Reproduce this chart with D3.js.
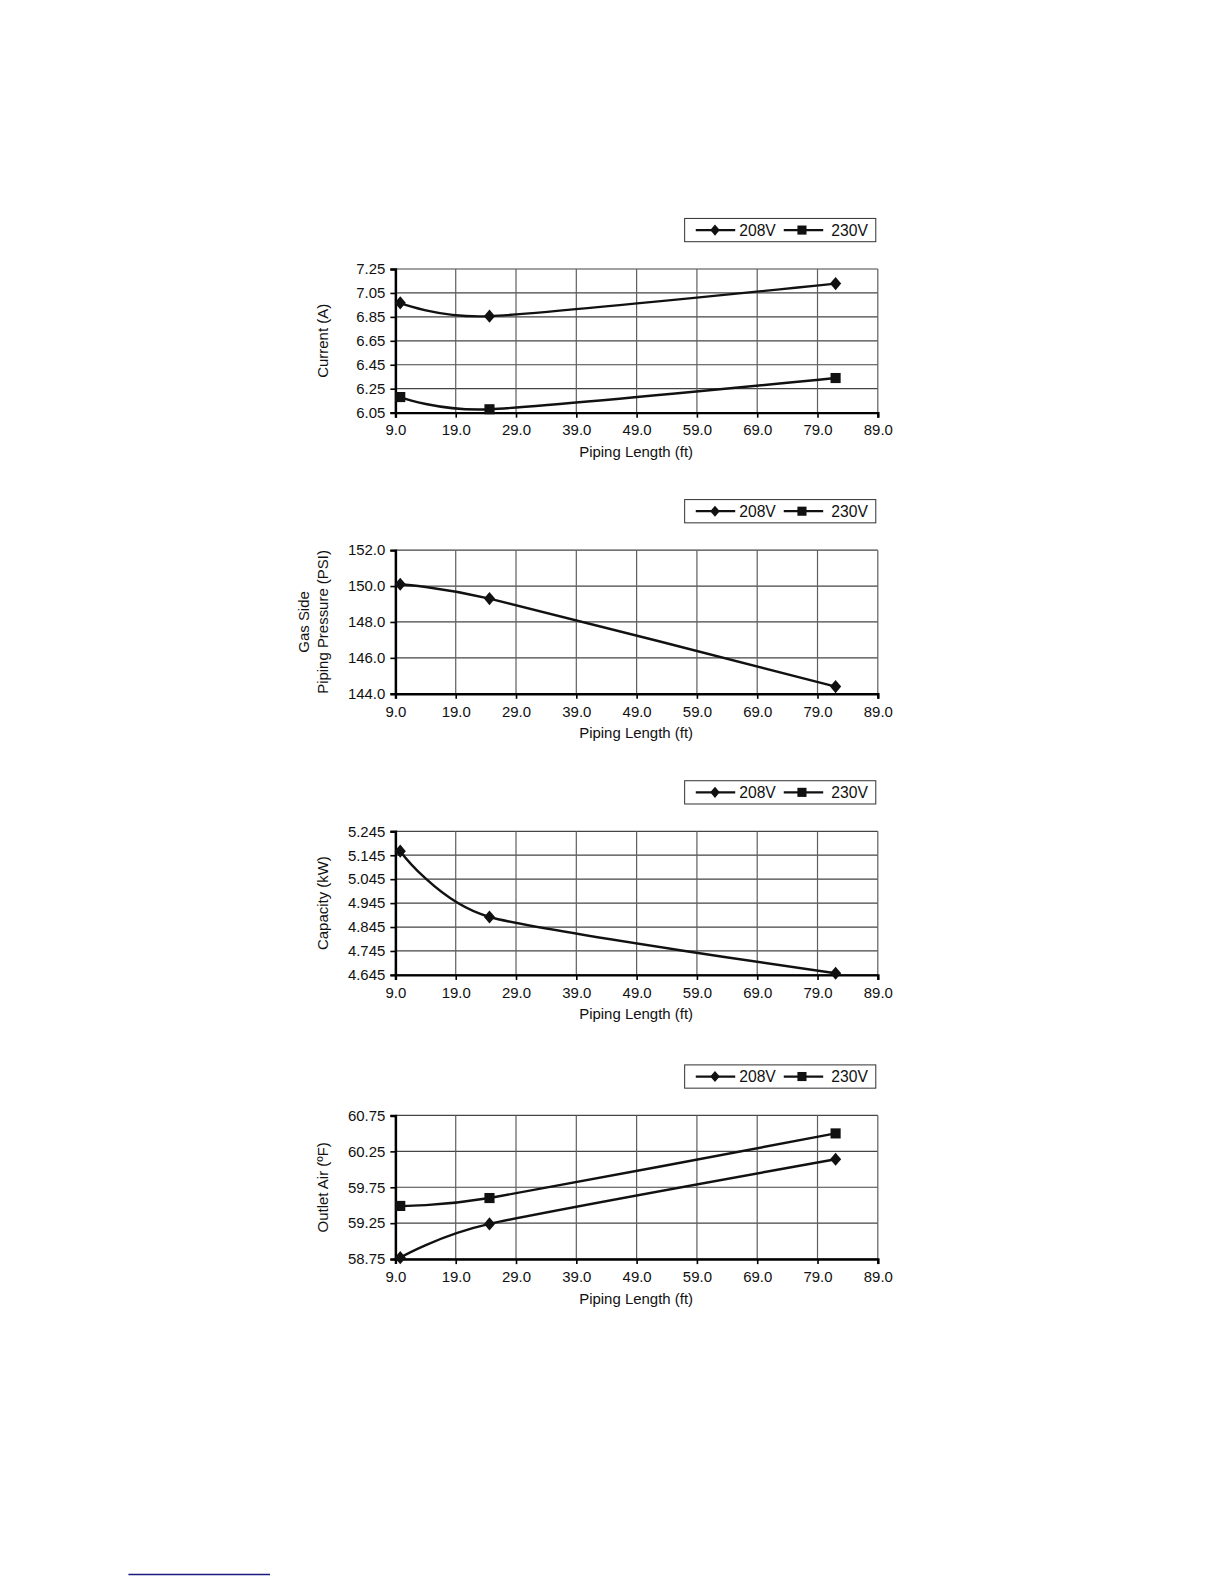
<!DOCTYPE html>
<html><head><meta charset="utf-8">
<script src="https://cdn.jsdelivr.net/npm/d3@7"></script>
<style>body{margin:0;background:#fff}svg{display:block}text{font-family:"Liberation Sans",Arial,sans-serif;fill:#111}</style>
</head><body>
<script>
// ---- data ----
const pipingLength = [9.8, 24.6, 82.0];
const xTicks = [9, 19, 29, 39, 49, 59, 69, 79, 89];
const seriesNames = ["208V", "230V"];

const current208 = [6.967, 6.856, 7.128];
const current230 = [6.180, 6.078, 6.339];
const currentTicks = [6.05, 6.25, 6.45, 6.65, 6.85, 7.05, 7.25];

const pressure208 = [150.1, 149.3, 144.4];
const pressureTicks = [144, 146, 148, 150, 152];

const capacity208 = [5.162, 4.887, 4.652];
const capacityTicks = [4.645, 4.745, 4.845, 4.945, 5.045, 5.145, 5.245];

const outlet208 = [58.77, 59.24, 60.14];
const outlet230 = [59.49, 59.60, 60.50];
const outletTicks = [58.75, 59.25, 59.75, 60.25, 60.75];

const W = 1224, H = 1584;
const svg = d3.select("body").append("svg").attr("width", W).attr("height", H);
const root = svg.append("g").attr("transform", "scale(1.0113)");

const charts = [
  {top: 266, ticks: currentTicks, fmt: d3.format(".2f"), title: ["Current (A)"], s208: current208, s230: current230},
  {top: 544, ticks: pressureTicks, fmt: d3.format(".1f"), title: ["Gas Side", "Piping Pressure (PSI)"], s208: pressure208, s230: null},
  {top: 822, ticks: capacityTicks, fmt: d3.format(".3f"), title: ["Capacity (kW)"], s208: capacity208, s230: null},
  {top: 1103, ticks: outletTicks, fmt: d3.format(".2f"), title: ["Outlet Air (ºF)"], s208: outlet208, s230: outlet230}
];

const left = 391, right = 868, ph = 142;
const FS = 14.8;
const x = d3.scaleLinear().domain([9, 89]).range([left, right]);

function diamond(g, cx, cy, r) {
  g.append("path").attr("d", `M${cx},${cy - r}L${cx + r * 0.85},${cy}L${cx},${cy + r}L${cx - r * 0.85},${cy}Z`).attr("fill", "#111");
}
function square(g, cx, cy, r) {
  g.append("rect").attr("x", cx - r).attr("y", cy - r).attr("width", 2 * r).attr("height", 2 * r).attr("fill", "#111");
}

charts.forEach(c => {
  const top = c.top, bottom = top + ph;
  const y = d3.scaleLinear().domain([c.ticks[0], c.ticks[c.ticks.length - 1]]).range([bottom, top]);
  const g = root.append("g");

  // grid
  g.selectAll(".hg").data(c.ticks).enter().append("line")
    .attr("x1", left).attr("x2", right).attr("y1", d => y(d)).attr("y2", d => y(d))
    .attr("stroke", "#454545").attr("stroke-width", 1.2);
  g.selectAll(".vg").data(xTicks).enter().append("line")
    .attr("x1", d => x(d)).attr("x2", d => x(d)).attr("y1", top).attr("y2", bottom)
    .attr("stroke", "#606060").attr("stroke-width", 1.2);

  // axes
  const ya = g.append("g").attr("transform", `translate(${left},0)`)
    .call(d3.axisLeft(y).tickValues(c.ticks).tickFormat(c.fmt).tickSize(5).tickPadding(5));
  const xa = g.append("g").attr("transform", `translate(0,${bottom})`)
    .call(d3.axisBottom(x).tickValues(xTicks).tickFormat(d3.format(".1f")).tickSize(5).tickPadding(7));
  [ya, xa].forEach(a => {
    a.select(".domain").attr("stroke", "#000").attr("stroke-width", 2.4);
    a.selectAll(".tick line").attr("stroke", "#000").attr("stroke-width", 1.6);
    a.selectAll("text").attr("font-size", FS).attr("fill", "#111").attr("font-family", "Liberation Sans, Arial, sans-serif");
  });

  // axis titles
  g.append("text").attr("x", 629).attr("y", bottom + 44).attr("text-anchor", "middle").attr("font-size", FS).text("Piping Length (ft)");
  const n = c.title.length;
  c.title.forEach((t, i) => {
    const tx = 324 - (n - 1 - i) * 18;
    g.append("text").attr("transform", `translate(${tx},${(top + bottom) / 2}) rotate(-90)`)
      .attr("text-anchor", "middle").attr("font-size", FS).text(t);
  });

  // lines
  const line = d3.line().x((d, i) => x(pipingLength[i])).y(d => y(d)).curve(d3.curveCardinal.tension(0.3));
  [[c.s208, diamond], [c.s230, square]].forEach(([s, mk]) => {
    if (!s) return;
    g.append("path").attr("d", line(s)).attr("fill", "none").attr("stroke", "#111").attr("stroke-width", 2.4);
    s.forEach((v, i) => mk === diamond ? diamond(g, x(pipingLength[i]), y(v), 6.5) : square(g, x(pipingLength[i]), y(v), 5));
  });

  // legend
  const ly = top - 38.5;
  const lg = g.append("g");
  lg.append("rect").attr("x", 677).attr("y", ly - 11.5).attr("width", 189).attr("height", 23)
    .attr("fill", "#fff").attr("stroke", "#333").attr("stroke-width", 1);
  lg.append("line").attr("x1", 688).attr("x2", 727).attr("y1", ly).attr("y2", ly).attr("stroke", "#111").attr("stroke-width", 2.2);
  diamond(lg, 707, ly, 5.5);
  lg.append("text").attr("x", 731).attr("y", ly + 5.5).attr("font-size", 15.5).text(seriesNames[0]);
  lg.append("line").attr("x1", 775).attr("x2", 814).attr("y1", ly).attr("y2", ly).attr("stroke", "#111").attr("stroke-width", 2.2);
  square(lg, 793, ly, 4.5);
  lg.append("text").attr("x", 822).attr("y", ly + 5.5).attr("font-size", 15.5).text(seriesNames[1]);
});

// footnote rule
root.append("line").attr("x1", 127).attr("x2", 267).attr("y1", 1557).attr("y2", 1557).attr("stroke", "#1a1a80").attr("stroke-width", 1.5);
</script>
</body></html>
